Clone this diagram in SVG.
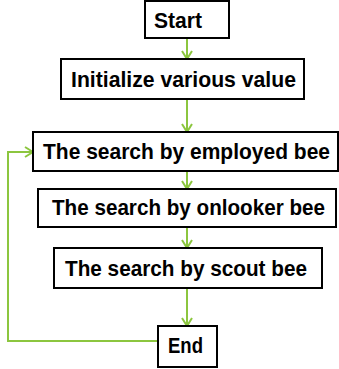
<svg xmlns="http://www.w3.org/2000/svg" width="339" height="369" viewBox="0 0 339 369">
<defs>
<marker id="ah" viewBox="0 0 12 12" refX="11" refY="6" markerWidth="12" markerHeight="12" markerUnits="userSpaceOnUse" orient="auto">
<path d="M3,1 L11,6 L3,11" fill="none" stroke="#8cc63f" stroke-width="2"/>
</marker>
<style>
.box{fill:#fff;stroke:#000;stroke-width:2}
.t{font-family:"Liberation Sans",Arial,sans-serif;font-weight:bold;font-size:21.5px;fill:#000}
.c{fill:none;stroke:#8cc63f;stroke-width:2;marker-end:url(#ah)}
</style>
</defs>
<rect width="339" height="369" fill="#fff"/>
<g id="connectors">
<line class="c" x1="187" y1="38" x2="187" y2="59"/>
<line class="c" x1="187" y1="99" x2="187" y2="132"/>
<line class="c" x1="187" y1="171" x2="187" y2="189"/>
<line class="c" x1="187" y1="227" x2="187" y2="248"/>
<line class="c" x1="187" y1="288" x2="187" y2="326"/>
<polyline class="c" points="158,341 8,341 8,152 33,152"/>
</g>
<g id="start">
<rect class="box" x="145" y="1" width="84" height="37"/>
<text class="t" x="154" y="28" textLength="48" lengthAdjust="spacingAndGlyphs">Start</text>
</g>
<g id="init">
<rect class="box" x="61" y="59" width="243" height="40"/>
<text class="t" x="71" y="87" textLength="225" lengthAdjust="spacingAndGlyphs">Initialize various value</text>
</g>
<g id="employed">
<rect class="box" x="33" y="132" width="305" height="39"/>
<text class="t" x="43" y="159" textLength="287" lengthAdjust="spacingAndGlyphs">The search by employed bee</text>
</g>
<g id="onlooker">
<rect class="box" x="38" y="189" width="298" height="38"/>
<text class="t" x="52" y="215" textLength="273" lengthAdjust="spacingAndGlyphs">The search by onlooker bee</text>
</g>
<g id="scout">
<rect class="box" x="54" y="248" width="268" height="40"/>
<text class="t" x="65" y="276" textLength="242" lengthAdjust="spacingAndGlyphs">The search by scout bee</text>
</g>
<g id="end">
<rect class="box" x="158" y="326" width="59" height="41"/>
<text class="t" x="168" y="353" textLength="35" lengthAdjust="spacingAndGlyphs">End</text>
</g>
</svg>
